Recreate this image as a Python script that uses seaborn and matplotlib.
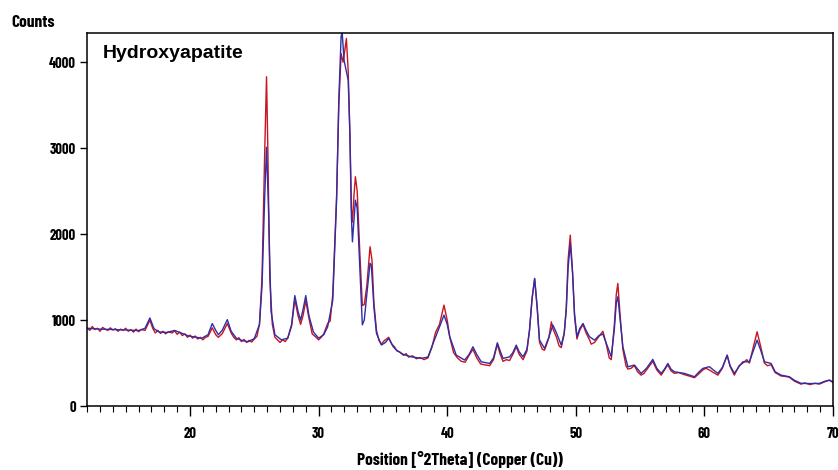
import pandas as pd
import matplotlib.pyplot as plt
import seaborn as sns
from matplotlib.ticker import MultipleLocator

two_theta_obs = [
    12.0, 12.2, 12.4, 12.6, 12.8, 13.0, 13.2, 13.4, 13.6, 13.8, 14.0, 14.2, 14.4, 14.6, 14.8,
    15.0, 15.2, 15.4, 15.6, 15.8, 16.0, 16.2, 16.5, 16.88, 17.1, 17.3, 17.5, 17.7, 17.9, 18.1,
    18.3, 18.6, 18.8, 19.0, 19.2, 19.4, 19.6, 19.8, 20.0, 20.2, 20.4, 20.6, 20.8, 21.0, 21.2,
    21.4, 21.73, 22.0, 22.2, 22.5, 22.9, 23.2, 23.4, 23.6, 23.8, 24.0, 24.2, 24.4, 24.6, 24.8,
    25.0, 25.2, 25.4, 25.6, 25.8, 25.95, 26.05, 26.2, 26.4, 26.6, 26.8, 27.0, 27.2, 27.4, 27.6,
    27.9, 28.15, 28.4, 28.6, 28.8, 29.0, 29.25, 29.5, 29.8, 30.0, 30.2, 30.4, 30.7, 30.9, 31.1,
    31.4, 31.57, 31.75, 31.9, 32.05, 32.16, 32.3, 32.43, 32.55, 32.63, 32.75, 32.86, 33.0, 33.2,
    33.4, 33.55, 33.75, 34.0, 34.15, 34.3, 34.5, 34.7, 34.88, 35.1, 35.45, 35.7, 35.9, 36.1,
    36.3, 36.6, 36.8, 37.0, 37.3, 37.6, 37.9, 38.2, 38.5, 38.8, 39.1, 39.4, 39.75, 40.0, 40.2,
    40.5, 40.8, 41.1, 41.4, 41.7, 42.0, 42.3, 42.6, 42.9, 43.3, 43.6, 43.9, 44.1, 44.34, 44.6,
    44.85, 45.1, 45.37, 45.6, 45.9, 46.2, 46.4, 46.6, 46.8, 47.0, 47.18, 47.4, 47.57, 47.9, 48.1,
    48.22, 48.5, 48.7, 48.87, 49.1, 49.26, 49.4, 49.57, 49.75, 49.9, 50.09, 50.3, 50.56, 50.8,
    51.07, 51.2, 51.46, 51.8, 52.11, 52.4, 52.6, 52.76, 53.0, 53.15, 53.27, 53.45, 53.66, 53.9,
    54.05, 54.3, 54.56, 54.8, 55.08, 55.3, 55.5, 55.99, 56.3, 56.64, 56.9, 57.16, 57.4, 57.67,
    58.0, 58.45, 58.8, 59.23, 59.6, 59.88, 60.1, 60.39, 60.7, 61.05, 61.4, 61.77, 62.0, 62.33,
    62.7, 62.99, 63.3, 63.5, 63.8, 64.1, 64.4, 64.67, 64.9, 65.19, 65.5, 65.96, 66.3, 66.61,
    67.0, 67.52, 67.8, 68.2, 68.6, 68.94, 69.4, 69.72, 70.0,
]
counts_obs = [
    910, 880, 925, 890, 905, 870, 915, 895, 880, 910, 885, 900, 870, 895, 880,
    905, 870, 890, 860, 895, 865, 890, 880, 1000, 905, 850, 880, 845, 870, 840,
    865, 850, 875, 835, 860, 820, 840, 800, 825, 790, 815, 780, 800, 770, 800,
    810, 910, 830, 800, 840, 960, 850, 800, 770, 795, 750, 775, 740, 765, 745,
    780, 810, 950, 1500, 2900, 3830, 3000, 1500, 950, 800, 770, 740, 770, 750, 790,
    930, 1240, 1050, 950, 1060, 1225, 1020, 840, 800, 770, 800, 840, 960, 990, 1300,
    2450, 3500, 4100, 4000, 4150, 4275, 3900, 3200, 2300, 2140, 2450, 2667, 2500, 1800,
    1170, 1180, 1400, 1853, 1700, 1200, 880, 760, 720, 760, 800, 720, 690, 640,
    630, 590, 610, 570, 585, 550, 565, 540, 560, 680, 860, 950, 1174, 1000, 800,
    620, 560, 520, 510, 590, 660, 560, 490, 480, 470, 540, 720, 610, 520, 540,
    530, 600, 690, 600, 540, 640, 880, 1250, 1480, 1130, 740, 660, 650, 790, 980,
    900, 800, 700, 680, 840, 1150, 1700, 1988, 1550, 1050, 780, 880, 950, 850,
    770, 720, 740, 810, 870, 700, 560, 540, 950, 1300, 1426, 1050, 660, 470,
    430, 440, 470, 400, 360, 380, 420, 520, 420, 360, 420, 480, 410, 380,
    390, 365, 350, 330, 380, 420, 440, 420, 390, 360, 440, 590, 460, 360,
    470, 500, 540, 500, 680, 864, 680, 500, 470, 480, 390, 350, 345, 335,
    290, 255, 270, 250, 265, 255, 285, 300, 275,
]

# Calculated pattern (blue)
two_theta_calc = [
    12.0, 13.0, 14.0, 15.0, 16.0, 16.5, 16.88, 17.2, 17.6, 18.2, 18.8, 19.3, 19.9, 20.5, 20.9,
    21.4, 21.73, 22.0, 22.2, 22.5, 22.9, 23.2, 23.6, 24.0, 24.5, 25.0, 25.4, 25.6, 25.8, 25.95,
    26.1, 26.3, 26.6, 27.1, 27.6, 27.9, 28.15, 28.4, 28.6, 28.8, 29.0, 29.25, 29.6, 30.0, 30.4,
    30.7, 31.1, 31.4, 31.57, 31.75, 31.83, 31.98, 32.16, 32.3, 32.43, 32.55, 32.63, 32.86, 33.0,
    33.2, 33.4, 33.55, 33.75, 34.0, 34.1, 34.3, 34.5, 34.88, 35.2, 35.45, 35.8, 36.05, 36.6,
    37.2, 38.0, 38.5, 39.0, 39.4, 39.75, 40.0, 40.2, 40.7, 41.35, 41.7, 42.0, 42.3, 42.65, 43.3,
    43.6, 43.9, 44.1, 44.34, 44.85, 45.1, 45.37, 45.6, 45.9, 46.2, 46.4, 46.6, 46.8, 47.0, 47.18,
    47.57, 47.9, 48.22, 48.5, 48.87, 49.1, 49.26, 49.4, 49.57, 49.75, 49.9, 50.09, 50.3, 50.56,
    50.8, 51.07, 51.46, 51.8, 52.11, 52.4, 52.76, 53.0, 53.15, 53.27, 53.45, 53.66, 54.05, 54.56,
    55.08, 55.5, 55.99, 56.3, 56.64, 56.9, 57.16, 57.4, 57.67, 58.45, 59.23, 59.6, 59.88, 60.39,
    60.7, 61.05, 61.4, 61.77, 62.0, 62.33, 62.7, 62.99, 63.5, 63.8, 64.1, 64.4, 64.67, 65.19,
    65.5, 65.96, 66.61, 67.0, 67.52, 68.2, 68.94, 69.4, 69.72, 70.0,
]
counts_calc = [
    905, 895, 890, 885, 878, 905, 1025, 900, 862, 855, 880, 850, 815, 800, 788,
    830, 960, 880, 830, 880, 1005, 870, 790, 765, 748, 785, 950, 1400, 2400, 3010,
    2300, 1100, 830, 770, 790, 950, 1285, 1100, 1000, 1130, 1285, 1050, 860, 790, 830,
    920, 1230, 2400, 3560, 4300, 4350, 4020, 3890, 3790, 3170, 2200, 1910, 2395, 2300,
    1620, 945, 1000, 1300, 1660, 1640, 1150, 845, 710, 740, 787, 690, 651, 600,
    573, 555, 570, 767, 920, 1058, 950, 806, 593, 535, 600, 690, 600, 515, 496,
    560, 736, 650, 554, 573, 620, 709, 630, 573, 660, 884, 1250, 1485, 1150, 767,
    671, 800, 942, 850, 709, 850, 1116, 1600, 1892, 1550, 1078, 806, 900, 961,
    880, 806, 767, 820, 837, 720, 573, 900, 1200, 1271, 1000, 690, 457, 477,
    380, 440, 543, 440, 380, 430, 496, 430, 399, 380, 341, 400, 438, 458,
    420, 380, 450, 593, 470, 380, 460, 515, 515, 640, 767, 640, 515, 496,
    400, 360, 341, 300, 264, 262, 264, 290, 302, 283,
]

y_ticks = [0, 1000, 2000, 3000, 4000]
x_ticks = [20, 30, 40, 50, 60, 70]

obs = pd.DataFrame({"two_theta": two_theta_obs, "counts": counts_obs})
calc = pd.DataFrame({"two_theta": two_theta_calc, "counts": counts_calc})

sns.set_style("ticks")
plt.rcParams["font.family"] = ["Barlow Condensed", "DejaVu Sans"]
plt.rcParams["text.color"] = "black"
plt.rcParams["xtick.color"] = "black"
plt.rcParams["ytick.color"] = "black"
plt.rcParams["axes.labelcolor"] = "black"

fig = plt.figure(figsize=(8.38, 4.70), dpi=100)
ax = fig.add_axes([0.104, 0.136, 0.890, 0.794])

sns.lineplot(data=obs, x="two_theta", y="counts", color="#c8141e",
             linewidth=1.0, estimator=None, ax=ax)
sns.lineplot(data=calc, x="two_theta", y="counts", color="#2e2ea8",
             linewidth=1.0, estimator=None, ax=ax)

ax.set_xlim(12, 70)
ax.set_ylim(0, 4340)
ax.set_xticks(x_ticks)
ax.set_yticks(y_ticks)
ax.xaxis.set_minor_locator(MultipleLocator(1))
ax.tick_params(axis="x", which="major", length=7, width=1, direction="out", pad=8)
ax.tick_params(axis="x", which="minor", length=4, width=0.8, direction="out")
ax.tick_params(axis="y", which="major", length=5, width=1, direction="out", pad=3)
for lab in ax.get_xticklabels() + ax.get_yticklabels():
    lab.set_fontweight("bold")
    lab.set_fontsize(10.5)
for s in ax.spines.values():
    s.set_linewidth(1.1)
    s.set_color("black")

ax.set_xlabel("Position [°2Theta] (Copper (Cu))", fontsize=12.5, fontweight="bold", labelpad=7)
ax.set_ylabel("")
fig.text(0.013, 0.953, "Counts", fontsize=12.5, fontweight="bold", va="center", ha="left")
ax.text(0.021, 0.944, "Hydroxyapatite", transform=ax.transAxes, fontsize=14,
        fontweight="bold", family="Liberation Sans", va="center", ha="left")

fig.savefig("out.png", dpi=100)
